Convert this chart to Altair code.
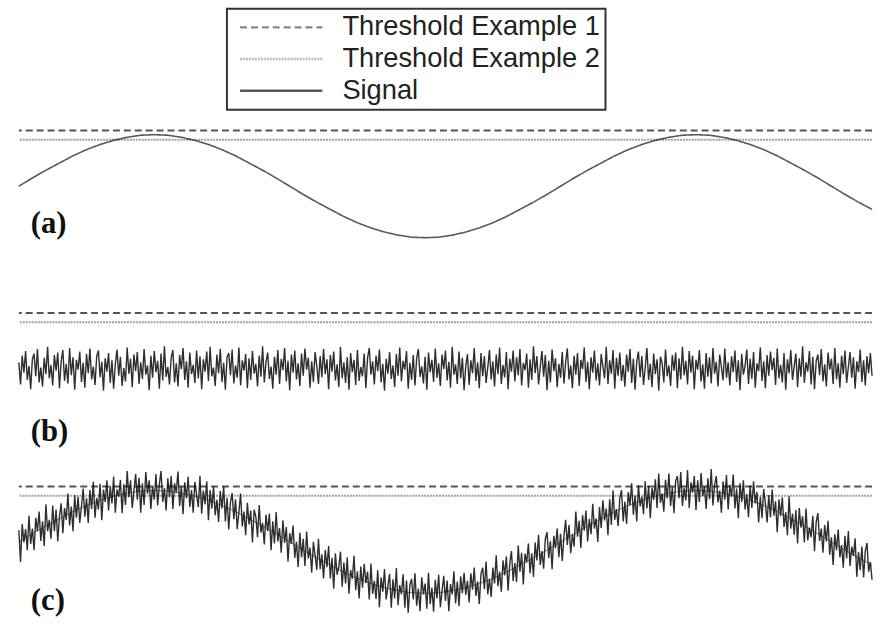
import altair as alt
import numpy as np
import pandas as pd

# ---------------- data ----------------
series_names = ["Threshold Example 1", "Threshold Example 2", "Signal"]
threshold_values = [1.08, 0.90]          # threshold example 1, threshold example 2
T_MAX = 10.0                             # arbitrary time span

# (a) clean sinusoidal signal
signal_a = [0.00, 0.16, 0.31, 0.45, 0.59, 0.71, 0.81, 0.89, 0.95, 0.99,
            1.00, 0.99, 0.95, 0.89, 0.81, 0.71, 0.59, 0.45, 0.31, 0.16,
            0.00, -0.16, -0.31, -0.45, -0.59, -0.71, -0.81, -0.89, -0.95, -0.99,
            -1.00, -0.99, -0.95, -0.89, -0.81, -0.71, -0.59, -0.45, -0.31, -0.16,
            0.00, 0.16, 0.31, 0.45, 0.59, 0.71, 0.81, 0.89, 0.95, 0.99,
            1.00, 0.99, 0.95, 0.89, 0.81, 0.71, 0.59, 0.45, 0.31, 0.16,
            0.00, -0.16, -0.31, -0.45]

# (b) noise only
signal_b = [
    0.12, -0.31, 0.25, -0.08, 0.34, -0.22, 0.05, -0.40, 0.18, 0.29, -0.15, 0.38, -0.27, 0.02, -0.35, 0.21, -0.11, 0.42, -0.19, 0.07,
    -0.33, 0.26, -0.04, 0.31, -0.38, 0.14, 0.36, -0.24, 0.09, -0.29, 0.40, -0.13, 0.22, -0.41, 0.17, -0.02, 0.33, -0.26, 0.11, -0.37,
    0.28, -0.09, 0.39, -0.21, 0.04, -0.32, 0.24, 0.35, -0.17, 0.13, -0.43, 0.20, -0.06, 0.30, -0.28, 0.16, -0.39, 0.08, 0.37, -0.14,
    0.23, -0.34, 0.01, -0.25, 0.41, -0.10, 0.19, -0.36, 0.27, -0.05, 0.32, -0.30, 0.12, -0.20, 0.38, -0.12, 0.06, -0.42, 0.25, -0.18,
    0.34, -0.07, 0.15, -0.39, 0.29, -0.23, 0.43, -0.16, 0.03, -0.31, 0.21, 0.36, -0.27, 0.10, -0.35, 0.26, -0.01, 0.40, -0.22, 0.14,
    -0.37, 0.31, -0.11, 0.07, -0.28, 0.35, -0.19, 0.24, -0.40, 0.18, -0.06, 0.33, -0.24, 0.42, -0.15, 0.02, -0.34, 0.27, -0.09, 0.38,
    -0.26, 0.11, -0.41, 0.22, 0.30, -0.13, 0.37, -0.29, 0.06, -0.18, 0.41, -0.33, 0.16, -0.04, 0.28, -0.38, 0.20, -0.22, 0.34, -0.10,
    0.09, -0.35, 0.25, -0.16, 0.43, -0.27, 0.13, 0.31, -0.20, 0.04, -0.39, 0.23, -0.12, 0.36, -0.30, 0.19, -0.03, 0.40, -0.25, 0.15,
    -0.42, 0.27, -0.08, 0.35, -0.21, 0.10, -0.34, 0.29, -0.14, 0.39, -0.02, 0.21, -0.37, 0.14, -0.26, 0.32, 0.05, -0.30, 0.24, -0.17,
    0.38, -0.11, 0.18, -0.40, 0.26, -0.06, 0.33, -0.23, 0.08, -0.36, 0.42, -0.19, 0.12, -0.28, 0.22, -0.41, 0.30, -0.07, 0.17, -0.32,
    0.36, -0.24, 0.03, -0.15, 0.29, -0.38, 0.21, 0.40, -0.12, 0.14, -0.31, 0.25, -0.05, 0.37, -0.27, 0.09, -0.43, 0.19, -0.10, 0.32,
    -0.20, 0.06, -0.36, 0.28, -0.14, 0.41, -0.25, 0.15, -0.02, 0.34, -0.39, 0.11, -0.22, 0.26, -0.33, 0.20, 0.38, -0.16, 0.04, -0.29,
    0.23, -0.41, 0.31, -0.07, 0.17, -0.26, 0.39, -0.18, 0.10, -0.34, 0.27, -0.01, 0.35, -0.23, 0.13, -0.37, 0.42, -0.12, 0.08, -0.30,
    0.33, -0.19, 0.21, -0.42, 0.05, 0.28, -0.32, 0.16, -0.09, 0.40, -0.24, 0.12, -0.38, 0.30, -0.15, 0.24, -0.28, 0.02, 0.36, -0.21,
    0.14, -0.35, 0.27, -0.11, 0.41, -0.30, 0.07, -0.17, 0.32, -0.40, 0.19, -0.06, 0.35, -0.25, 0.22, -0.13, 0.38, -0.33, 0.11, -0.03,
    0.29, -0.37, 0.18, -0.22, 0.43, -0.09, 0.24, -0.31, 0.03, 0.34, -0.16, 0.26, -0.42, 0.15, -0.27, 0.37, -0.05, 0.20, -0.36, 0.09,
    -0.18, 0.32, -0.29, 0.12, 0.39, -0.21, 0.06, -0.38, 0.25, -0.12, 0.30, -0.34, 0.17, -0.01, 0.41, -0.26, 0.13, -0.40, 0.22, -0.08,
    0.35, -0.23, 0.10, -0.33, 0.28, 0.04, -0.19, 0.42, -0.30, 0.16, -0.10, 0.36, -0.39, 0.21, -0.14, 0.31, -0.24, 0.07, -0.35, 0.27,
    -0.06, 0.38, -0.28, 0.19, -0.41, 0.13, 0.33, -0.17, 0.24, -0.32, 0.02, 0.40, -0.22, 0.09, -0.36, 0.29, -0.11, 0.18, -0.43, 0.23,
    0.11, -0.27, 0.37, -0.15, 0.06, -0.34, 0.26, -0.04, 0.31, -0.38, 0.20, -0.21, 0.42, -0.13, 0.15, -0.31, 0.34, -0.08, 0.25, -0.40,
    0.17, -0.02, 0.36, -0.25, 0.08, -0.39, 0.30, -0.16, 0.22, -0.29, 0.40, -0.10, 0.13, -0.35, 0.27, 0.03, -0.23, 0.39, -0.18, 0.12,
    -0.33, 0.24, -0.07, 0.35, -0.26, 0.16, -0.42, 0.28, -0.12, 0.05, 0.37, -0.30, 0.19, -0.20, 0.32, -0.37, 0.10, -0.05, 0.41, -0.24,
    0.14, -0.38, 0.26, -0.14, 0.33, -0.03, 0.21, -0.32, 0.39, -0.19, 0.07, -0.27, 0.30, -0.41, 0.18, -0.09, 0.36, -0.22, 0.04, 0.29,
    -0.36, 0.20, -0.16, 0.43, -0.28, 0.12, -0.06, 0.34, -0.31, 0.23, -0.40, 0.15, 0.27, -0.13, 0.38, -0.25, 0.08, -0.35, 0.31, -0.02,
    0.19, -0.30, 0.40, -0.21, 0.10, -0.37, 0.25, -0.11, 0.35, -0.28, 0.03, 0.32, -0.18, 0.22, -0.39, 0.14, -0.07, 0.37, -0.26, 0.16,
    -0.33, 0.24, -0.09, 0.30, -0.14]

# (c) sinusoid with noise
signal_c = [
    0.23, -0.39, 0.35, -0.01, 0.25, -0.16, 0.51, -0.04, 0.26, -0.16, 0.47, 0.21, 0.59, 0.02, 0.40, -0.08,
    0.73, 0.21, 0.43, 0.06, 0.71, 0.21, 0.63, 0.01, 0.50, 0.75, 0.17, 0.66, 0.43, 0.94, 0.32, 0.69,
    0.21, 0.91, 0.47, 0.88, 0.37, 0.69, 1.04, 0.49, 0.85, 0.37, 1.01, 0.64, 1.17, 0.47, 0.86, 0.63,
    1.13, 0.42, 1.02, 0.78, 1.20, 0.61, 1.09, 0.75, 1.27, 0.57, 1.02, 0.88, 1.21, 0.56, 1.12, 0.72,
    1.38, 0.87, 1.20, 0.66, 1.00, 1.32, 0.82, 1.25, 0.57, 1.14, 0.72, 1.36, 0.94, 1.20, 0.64, 1.09,
    0.82, 1.32, 0.71, 1.12, 1.38, 0.78, 1.05, 0.61, 1.24, 0.87, 1.28, 0.64, 1.14, 0.96, 1.37, 0.70,
    1.08, 0.54, 1.16, 0.85, 1.27, 0.68, 1.01, 0.57, 1.17, 0.92, 0.68, 1.28, 0.55, 1.00, 0.73, 1.18,
    0.42, 1.01, 0.65, 1.08, 0.52, 0.82, 0.39, 0.99, 0.65, 1.08, 0.40, 0.86, 0.24, 0.77, 0.95, 0.44,
    0.83, 0.25, 0.58, 0.94, 0.30, 0.59, 0.13, 0.76, 0.34, 0.61, -0.01, 0.63, 0.49, 0.09, 0.72, 0.18,
    0.37, -0.05, 0.53, 0.21, 0.55, -0.16, 0.40, -0.03, 0.58, 0.01, 0.27, -0.21, 0.42, -0.02, 0.29, -0.38,
    0.17, -0.04, 0.32, -0.31, 0.00, -0.49, 0.18, -0.30, 0.06, -0.47, 0.20, -0.32, -0.11, -0.60, 0.00, -0.26,
    -0.54, 0.06, -0.53, -0.24, -0.71, -0.16, -0.49, -0.08, -0.71, -0.31, -0.91, -0.22, -0.64, -0.49, -0.19, -0.87,
    -0.40, -0.81, -0.30, -1.01, -0.55, -0.72, -0.27, -0.94, -0.57, -1.10, -0.48, -0.89, -0.43, -0.80, -0.58, -1.12,
    -0.42, -1.01, -0.76, -1.11, -0.55, -1.27, -0.69, -0.97, -0.53, -1.12, -0.87, -0.62, -1.28, -0.73, -1.10, -0.51,
    -1.23, -0.84, -1.02, -0.63, -1.28, -0.75, -1.38, -0.84, -0.72, -1.12, -0.61, -1.24, -0.91, -1.35, -0.69, -1.02,
    -0.81, -1.30, -0.60, -1.21, -0.89, -1.36, -0.74, -1.10, -0.64, -1.27, -0.95, -0.66, -1.15, -0.75, -1.35, -0.82,
    -1.02, -0.57, -1.20, -0.77, -1.25, -0.67, -1.00, -0.60, -1.03, -0.76, -1.18, -0.61, -0.93, -0.50, -1.05, -0.77,
    -1.21, -0.62, -0.50, -0.92, -0.38, -1.02, -0.72, -1.07, -0.50, -0.81, -0.26, -0.86, -0.58, -0.97, -0.36, -0.65,
    -0.28, -0.95, -0.42, -0.18, -0.76, -0.41, -0.78, -0.07, -0.58, -0.21, -0.83, -0.23, -0.40, -0.03, -0.61, -0.22,
    -0.68, -0.01, -0.36, 0.14, -0.45, -0.18, -0.52, 0.06, 0.19, -0.31, 0.01, -0.53, 0.12, -0.12, 0.26, -0.30,
    0.16, -0.37, 0.12, 0.43, -0.06, 0.33, -0.22, 0.15, -0.09, 0.59, 0.10, 0.41, -0.12, 0.52, 0.22, 0.61,
    0.01, 0.45, 0.15, 0.74, 0.26, 0.46, 0.00, 0.68, 0.27, 0.81, 0.42, 0.65, 0.13, 0.83, 0.33, 1.00,
    0.43, 0.64, 0.31, 0.85, 1.01, 0.40, 0.78, 0.35, 0.97, 0.71, 1.14, 0.53, 0.90, 0.40, 1.10, 0.69,
    0.88, 0.54, 1.18, 0.65, 1.09, 0.46, 1.05, 0.82, 1.22, 0.66, 1.33, 0.76, 0.94, 0.59, 1.21, 0.85,
    1.33, 0.70, 1.07, 0.56, 1.19, 1.28, 0.85, 1.36, 0.70, 1.05, 0.81, 1.40, 0.66, 1.16, 0.96, 1.28,
    0.62, 1.20, 0.78, 1.34, 0.89, 1.08, 0.64, 1.24, 0.83, 1.42, 0.71, 1.11, 1.28, 0.77, 1.00, 0.57,
    1.18, 0.82, 1.30, 0.63, 1.11, 0.88, 1.31, 0.65, 1.04, 0.46, 1.14, 0.78, 1.20, 0.63, 0.93, 0.48,
    1.10, 0.66, 1.18, 0.75, 0.97, 0.38, 0.88, 0.46, 1.03, 0.75, 0.38, 0.91, 0.48, 1.02, 0.51, 0.79,
    0.19, 0.83, 0.50, 0.87, 0.29, 0.58, 0.13, 0.89, 0.26, 0.55, 0.14, 0.62, -0.03, 0.66, 0.28, 0.50,
    -0.01, 0.65, 0.03, 0.28, 0.09, 0.51, -0.18, 0.39, 0.56, 0.02, 0.26, -0.21, 0.33, 0.01, 0.41, -0.25,
    0.09, -0.45, 0.15, -0.16, 0.24, -0.30, -0.06, -0.50, 0.12, -0.32, 0.21, -0.47, -0.09, -0.27, 0.07, -0.68,
    -0.20, -0.55, -0.09, -0.69, -0.18, -0.02, -0.58, -0.39, -0.74]

panel_labels = ["(a)", "(b)", "(c)"]
panel_label_y = [-0.73, -1.23, -1.15]
panel_label_t = 0.14

# ---------------- layout / style ----------------
PANEL_W = 861
panel_heights = [250, 210, 169]
panel_domains = [(-1.25, 3.56), (-1.75, 2.29), (-1.64, 1.62)]
colors = ["#555555", "#a0a0a0", "#111111"]
dashes = [[7, 4], [2, 1], [1, 0]]

legend = alt.Legend(
    title=None, orient="none", legendX=210, legendY=6,
    symbolType="M-4.15,0H4.15", symbolSize=400, symbolStrokeWidth=2.5,
    symbolOffset=36, labelOffset=48,
    labelFont="Liberation Sans", labelFontSize=27.5, labelColor="#222222",
    labelLimit=0, rowPadding=3, padding=5,
    strokeColor="#333333",
)
color_enc = alt.Color("series:N", scale=alt.Scale(domain=series_names, range=colors), legend=legend)
dash_enc = alt.StrokeDash("series:N", scale=alt.Scale(domain=series_names, range=dashes), legend=legend)

thr_df = pd.DataFrame({"series": series_names[:2], "value": threshold_values})


def make_panel(values, idx, with_base=False):
    df = pd.DataFrame({
        "t": np.linspace(0, T_MAX, len(values)),
        "value": values,
        "series": "Signal",
    })
    lo, hi = panel_domains[idx]
    x = alt.X("t:Q", axis=None, scale=alt.Scale(domain=[0, T_MAX], nice=False, zero=False))
    ysc = alt.Scale(domain=[lo, hi], nice=False, zero=False)

    rules = alt.Chart(thr_df).mark_rule(strokeWidth=2).encode(
        y=alt.Y("value:Q", axis=None, scale=ysc), color=color_enc, strokeDash=dash_enc)
    layers = [rules]
    if with_base:
        base_df = pd.DataFrame({"t": np.linspace(0, T_MAX, len(signal_a)),
                                "value": signal_a, "series": "Signal"})
        layers.append(alt.Chart(base_df).mark_line(strokeWidth=1, color="#777777").encode(
            x=x, y=alt.Y("value:Q", axis=None, scale=ysc)))
    sw = 1.6 if idx == 0 else 1.4
    line = alt.Chart(df).mark_line(strokeWidth=sw, opacity=0.88 if idx else 0.7).encode(
        x=x, y=alt.Y("value:Q", axis=None, scale=ysc), color=color_enc, strokeDash=dash_enc)
    layers.append(line)
    lab_df = pd.DataFrame({"t": [panel_label_t], "value": [panel_label_y[idx]], "label": [panel_labels[idx]]})
    label = alt.Chart(lab_df).mark_text(
        align="left", baseline="middle", font="Liberation Serif", fontWeight="bold",
        fontSize=31, color="#111111").encode(
        x=x, y=alt.Y("value:Q", axis=None, scale=ysc), text="label:N")
    layers.append(label)
    return alt.layer(*layers).properties(width=PANEL_W, height=panel_heights[idx])


chart = alt.vconcat(
    make_panel(signal_a, 0),
    make_panel(signal_b, 1),
    make_panel(signal_c, 2, with_base=True),
    spacing=0,
).properties(
    padding={"left": 15, "right": 2, "top": 0, "bottom": 0},
    background="white",
).configure_view(stroke=None).configure_legend(strokeWidth=2)

chart.save("out.html", embed_options={"renderer": "svg", "actions": False})
